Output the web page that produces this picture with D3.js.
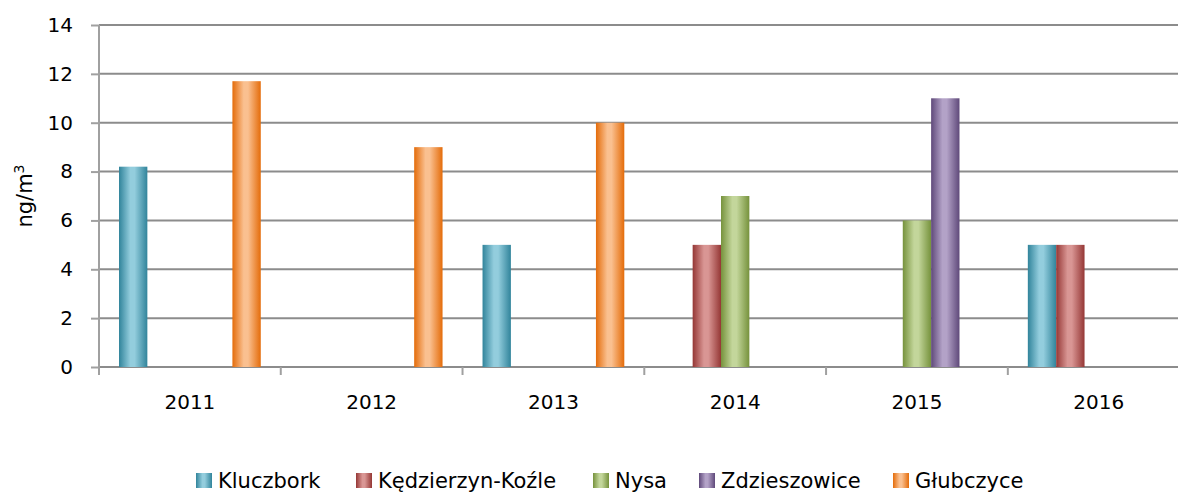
<!DOCTYPE html>
<html>
<head>
<meta charset="utf-8">
<script src="https://cdn.jsdelivr.net/npm/d3@7"></script>
<style>
  body { margin: 0; background: #fff; }
  svg { display: block; font-family: "DejaVu Sans", sans-serif; }
</style>
</head>
<body>
<div></div>
<script>
const years = ["2011", "2012", "2013", "2014", "2015", "2016"];
const series = ["Kluczbork", "Kędzierzyn-Koźle", "Nysa", "Zdzieszowice", "Głubczyce"];
const kluczbork = [8.2, null, 5, null, null, 5];
const kedzierzyn = [null, null, null, 5, null, 5];
const nysa = [null, null, null, 7, 6, null];
const zdzieszowice = [null, null, null, null, 11, null];
const glubczyce = [11.7, 9, 10, null, null, null];
const yTicks = [0, 2, 4, 6, 8, 10, 12, 14];
const darkColors = ["#31849b", "#953735", "#76923c", "#5f497a", "#e46c0a"];
const lightColors = ["#93cddd", "#d99694", "#c3d69b", "#b3a2c7", "#fac090"];

const values = [kluczbork, kedzierzyn, nysa, zdzieszowice, glubczyce];

const W = 1178, H = 493;
const svg = d3.select("div").append("svg").attr("width", W).attr("height", H);

const defs = svg.append("defs");
series.forEach((s, i) => {
  const g = defs.append("linearGradient").attr("id", "grad" + i)
    .attr("x1", "0%").attr("x2", "100%").attr("y1", "0%").attr("y2", "0%");
  g.append("stop").attr("offset", "0%").attr("stop-color", darkColors[i]);
  g.append("stop").attr("offset", "40%").attr("stop-color", lightColors[i]);
  g.append("stop").attr("offset", "55%").attr("stop-color", lightColors[i]);
  g.append("stop").attr("offset", "100%").attr("stop-color", darkColors[i]);
});

const x0 = d3.scaleBand().domain(years).range([99, 1189.6]);
const x1 = d3.scaleBand().domain(series).range([20, x0.bandwidth() - 20]);
const y = d3.scaleLinear().domain([0, 14]).range([367, 25]);

// gridlines
svg.append("g").selectAll("line").data(yTicks).join("line")
  .attr("x1", 99).attr("x2", 1190)
  .attr("y1", d => y(d)).attr("y2", d => y(d))
  .attr("stroke", "#8c8c8c").attr("stroke-width", 2);

// y axis
const yAxis = svg.append("g").attr("transform", "translate(99,0)")
  .call(d3.axisLeft(y).tickValues(yTicks).tickSize(8).tickPadding(18));
yAxis.select(".domain").attr("stroke", "#a0a0a0").attr("stroke-width", 2).attr("d", "M0,25V375");
yAxis.selectAll(".tick line").attr("stroke", "#a0a0a0").attr("stroke-width", 2);
yAxis.selectAll("text").attr("font-size", 20).attr("fill", "#000")
  .attr("font-family", "DejaVu Sans");

// x axis
const xAxis = svg.append("g").attr("transform", "translate(0,367)")
  .call(d3.axisBottom(x0).tickSize(0));
xAxis.select(".domain").remove();
xAxis.selectAll("text").attr("font-size", 20).attr("fill", "#000")
  .attr("font-family", "DejaVu Sans").attr("y", 42).attr("dy", 0);
svg.append("g").selectAll("line").data(d3.range(years.length + 1)).join("line")
  .attr("x1", d => 99 + d * x0.step()).attr("x2", d => 99 + d * x0.step())
  .attr("y1", 367).attr("y2", 375)
  .attr("stroke", "#a0a0a0").attr("stroke-width", 2);

// bars
const barData = [];
values.forEach((arr, i) => arr.forEach((v, j) => {
  if (v != null) barData.push({ s: series[i], i: i, year: years[j], v: v });
}));
svg.append("g").selectAll("rect").data(barData).join("rect")
  .attr("x", d => x0(d.year) + x1(d.s))
  .attr("width", x1.bandwidth())
  .attr("y", d => y(d.v))
  .attr("height", d => y(0) - y(d.v))
  .attr("fill", d => "url(#grad" + d.i + ")");

// y label
svg.append("text")
  .attr("transform", "translate(32,196) rotate(-90)")
  .attr("text-anchor", "middle")
  .attr("font-size", 21).attr("font-family", "DejaVu Sans")
  .html('ng/m<tspan baseline-shift="super" font-size="14">3</tspan>');

// legend
const legendX = [196, 356, 593, 699, 893];
const lg = svg.append("g").selectAll("g").data(series).join("g")
  .attr("transform", (d, i) => "translate(" + legendX[i] + ",473)");
lg.append("rect").attr("width", 16).attr("height", 15)
  .attr("fill", (d, i) => "url(#grad" + i + ")");
lg.append("text").attr("x", 22).attr("y", 15)
  .attr("font-size", 21).attr("font-family", "DejaVu Sans")
  .text(d => d);
</script>
</body>
</html>
